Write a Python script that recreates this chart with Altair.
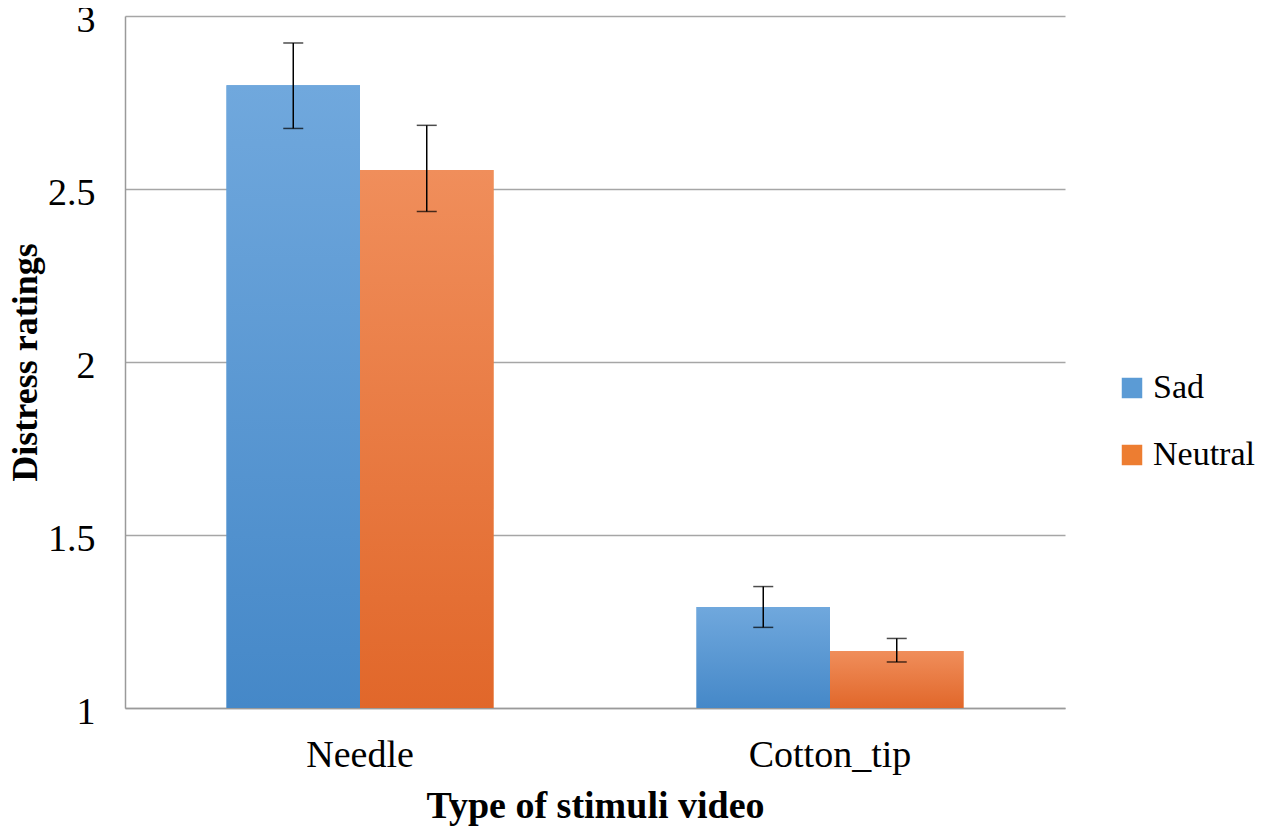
import altair as alt
import pandas as pd

categories = ["Needle", "Needle", "Cotton_tip", "Cotton_tip"]
series = ["Sad", "Neutral", "Sad", "Neutral"]
means = [2.80, 2.555, 1.292, 1.165]
err_low = [2.675, 2.435, 1.233, 1.133]
err_high = [2.922, 2.684, 1.351, 1.201]
cat_order = ["Needle", "Cotton_tip"]
series_order = ["Sad", "Neutral"]
y_ticks = [1, 1.5, 2, 2.5, 3]

df = pd.DataFrame({
    "cat": categories, "series": series, "mean": means,
    "lo": err_low, "hi": err_high, "base": [1] * 4,
})

FONT = "Liberation Serif"

x_enc = alt.X("cat:N", sort=cat_order,
              scale=alt.Scale(paddingInner=0.432, paddingOuter=0.216),
              axis=alt.Axis(title="Type of stimuli video", labelAngle=0,
                            labelFontSize=38, titleFontSize=38,
                            titleFontWeight="bold", labelPadding=28,
                            titlePadding=13, ticks=False, domain=True,
                            labelFont=FONT, titleFont=FONT,
                            domainColor="#9a9a9a", domainWidth=1.5))
xo = alt.XOffset("series:N", sort=series_order,
                 scale=alt.Scale(domain=series_order, paddingInner=0, paddingOuter=0))
y_scale = alt.Scale(domain=[1, 3], zero=False, nice=False)
y_enc = alt.Y("mean:Q", scale=y_scale,
              axis=alt.Axis(title="Distress ratings", values=y_ticks, format="~g",
                            labelFontSize=38, titleFontSize=36,
                            titleFontWeight="bold", labelPadding=30,
                            labelOffset=4, labelFont=FONT, titleFont=FONT,
                            titlePadding=3, ticks=False, grid=True,
                            gridColor="#a6a6a6", gridWidth=1.5,
                            domainColor="#9a9a9a", domainWidth=1.5))

legend_bars = alt.Chart(df).mark_bar().encode(
    x=x_enc, xOffset=xo, y=y_enc, y2="base:Q",
    color=alt.Color("series:N", sort=series_order,
                    scale=alt.Scale(domain=series_order, range=["#5b9bd5", "#ed7d31"]),
                    legend=alt.Legend(title=None, orient="none", legendX=990, legendY=355,
                                      symbolType="square", symbolSize=420,
                                      labelFontSize=34, labelOffset=4, labelFont=FONT,
                                      labelLimit=300,
                                      rowPadding=33, symbolStrokeWidth=0)),
)

def grad(top, bottom):
    return alt.Gradient(gradient="linear", x1=0, x2=0, y1=0, y2=1,
                        stops=[alt.GradientStop(color=top, offset=0),
                               alt.GradientStop(color=bottom, offset=1)])

sad_bars = alt.Chart(df).transform_filter(alt.datum.series == "Sad").mark_bar(
    fill=grad("#70a8dd", "#4588c8")).encode(x=x_enc, xOffset=xo, y=y_enc, y2="base:Q")
neu_bars = alt.Chart(df).transform_filter(alt.datum.series == "Neutral").mark_bar(
    fill=grad("#f08e5b", "#e1672a")).encode(x=x_enc, xOffset=xo, y=y_enc, y2="base:Q")

err_rule = alt.Chart(df).mark_rule(color="black", strokeWidth=1.5).encode(
    x=x_enc, xOffset=xo, y=alt.Y("lo:Q", scale=y_scale), y2="hi:Q")
cap_lo = alt.Chart(df).mark_tick(color="black", size=20, thickness=1.5, orient="horizontal").encode(
    x=x_enc, xOffset=xo, y=alt.Y("lo:Q", scale=y_scale))
cap_hi = alt.Chart(df).mark_tick(color="black", size=20, thickness=1.5, orient="horizontal").encode(
    x=x_enc, xOffset=xo, y=alt.Y("hi:Q", scale=y_scale))

chart = alt.layer(legend_bars, sad_bars, neu_bars, err_rule, cap_lo, cap_hi).properties(
    width=940, height=692,
    autosize=alt.AutoSizeParams(type="none"),
    padding={"left": 117, "top": 8, "right": 194, "bottom": 120},
).configure(font=FONT).configure_axis(
    labelColor="black", titleColor="black"
).configure_legend(labelColor="black").configure_view(stroke=None)

chart.save("out.html", embed_options={"renderer": "svg", "actions": False})
